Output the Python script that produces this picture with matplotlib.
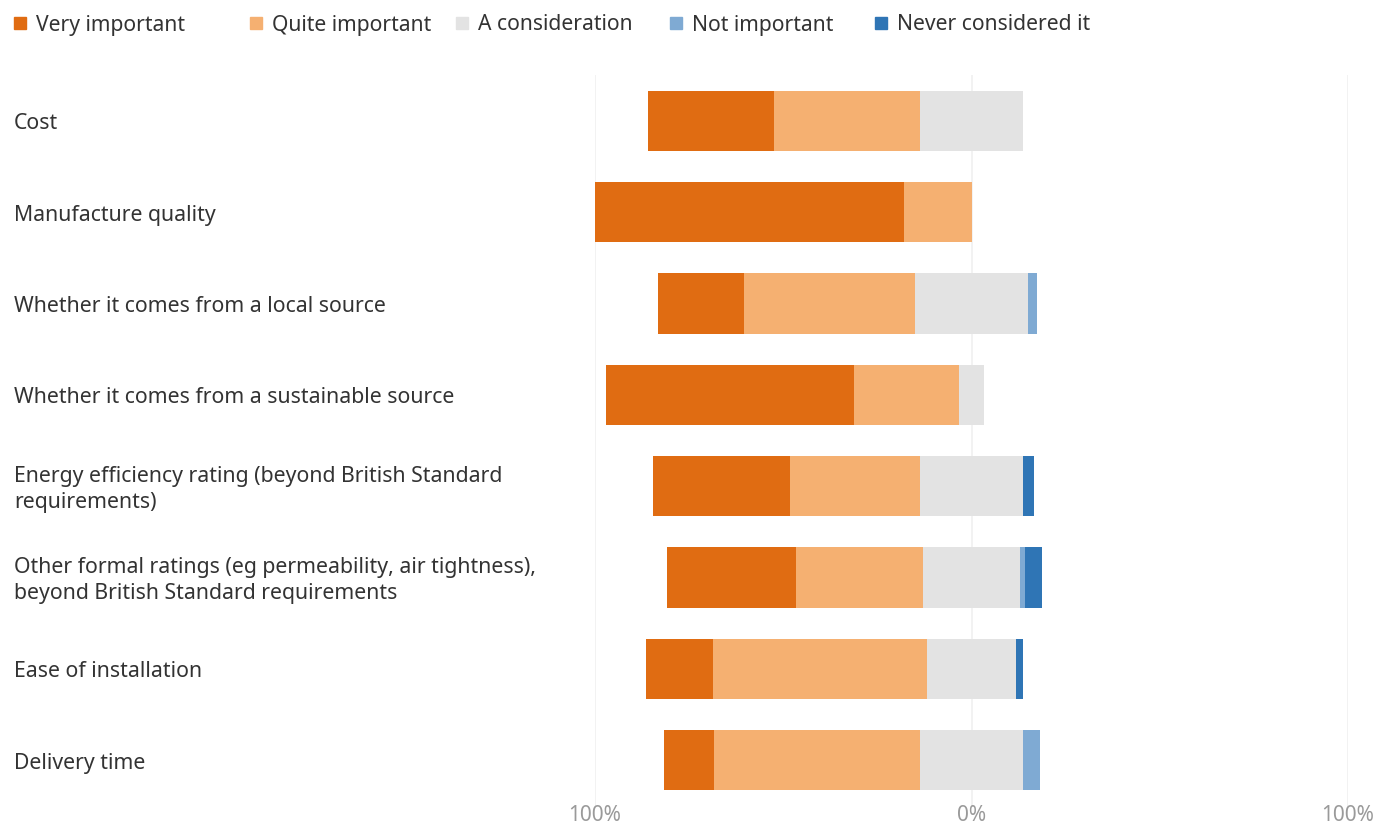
import numpy as np
import matplotlib
matplotlib.use("Agg")
import matplotlib.pyplot as plt
import matplotlib.transforms as mtrans
from matplotlib.patches import Rectangle

categories = [
    "Cost",
    "Manufacture quality",
    "Whether it comes from a local source",
    "Whether it comes from a sustainable source",
    "Energy efficiency rating (beyond British Standard\nrequirements)",
    "Other formal ratings (eg permeability, air tightness),\nbeyond British Standard requirements",
    "Ease of installation",
    "Delivery time",
]
very_important = [33.5, 82.0, 22.8, 66.0, 36.3, 34.3, 17.9, 13.3]
quite_important = [38.9, 18.0, 45.6, 27.8, 34.7, 33.9, 56.9, 54.7]
a_consideration = [27.2, 0.0, 29.8, 6.7, 27.1, 25.6, 23.4, 27.6]
not_important = [0.0, 0.0, 2.4, 0.0, 0.0, 1.5, 0.0, 4.4]
never_considered = [0.0, 0.0, 0.0, 0.0, 3.0, 4.5, 1.9, 0.0]

series_names = ["Very important", "Quite important", "A consideration",
                "Not important", "Never considered it"]
colors = ["#E06C12", "#F5B071", "#E3E3E3", "#7FAAD3", "#2F75B5"]
tick_values = [-100, 0, 100]
tick_labels = ["100%", "0%", "100%"]

plt.rcParams['font.family'] = ['Noto Sans', 'DejaVu Sans']

W, H = 1389, 825
fig = plt.figure(figsize=(W / 100, H / 100), dpi=100)
ax = fig.add_axes([595 / W, 1 - 806 / H, (1348 - 595) / W, (806 - 75) / H])

v = np.array(very_important)
q = np.array(quite_important)
c = np.array(a_consideration)
n = np.array(not_important)
nv = np.array(never_considered)
y = np.arange(len(categories))

start = -(v + q + c / 2)
lefts = [start, start + v, start + v + q, start + v + q + c, start + v + q + c + n]
widths = [v, q, c, n, nv]
bh = 0.66
for left, wd, col in zip(lefts, widths, colors):
    ax.barh(y, wd, left=left, height=bh, color=col, edgecolor='none', zorder=3)

ax.set_xlim(-100, 100)
ax.set_ylim(len(categories) - 0.5, -0.5)
ax.set_xticks(tick_values)
ax.set_xticklabels(tick_labels, color="#9a9a9a", fontsize=15)
ax.tick_params(axis='x', length=0, pad=-1)
ax.set_yticks([])
for s in ax.spines.values():
    s.set_visible(False)
for tv in tick_values:
    ax.axvline(tv, color="#F0F0F0", lw=1.2, zorder=1)

trans = mtrans.blended_transform_factory(fig.transFigure, ax.transData)
offset = mtrans.ScaledTranslation(0, -3 / 100, fig.dpi_scale_trans)
for yi, lab in zip(y, categories):
    ax.text(14 / W, yi, lab, transform=trans + offset, ha='left', va='center',
            fontsize=15.3, color="#333333", linespacing=1.3)

# legend
leg_x = [14, 250, 456, 670, 875]
for xp, name, col in zip(leg_x, series_names, colors):
    fig.patches.append(Rectangle((xp / W, 1 - 29 / H), 12 / W, 12 / H,
                                 transform=fig.transFigure, color=col))
    fig.text((xp + 22) / W, 1 - 25 / H, name, ha='left', va='center',
             fontsize=15.2, color="#333333")

fig.savefig("out.png", dpi=100, facecolor='white')
